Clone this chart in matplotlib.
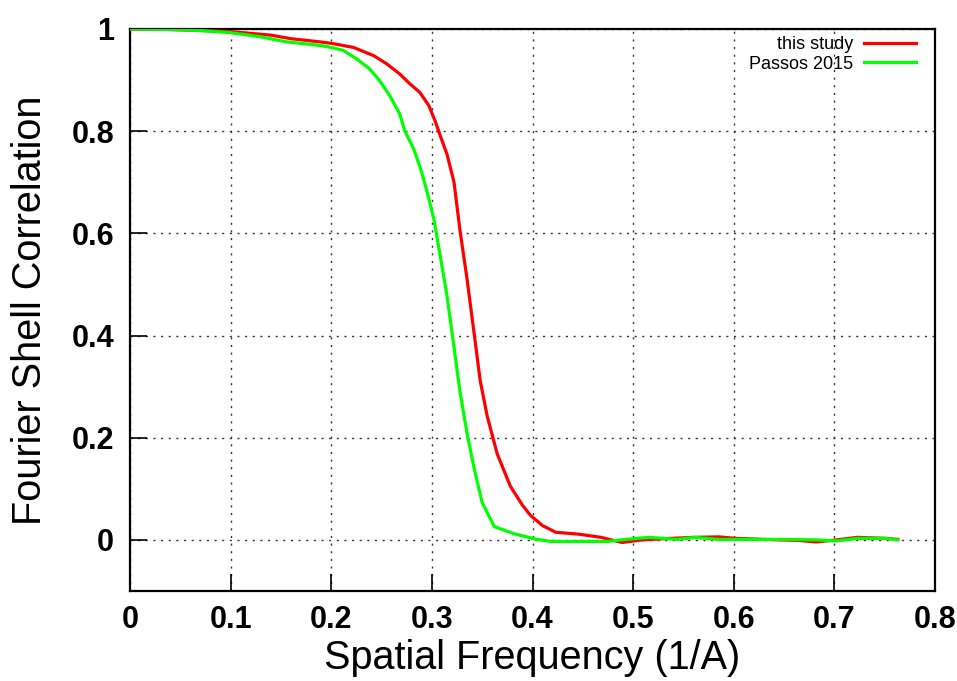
import matplotlib
matplotlib.use("Agg")
import matplotlib.pyplot as plt

# Data
red_x = [0.000, 0.040, 0.070, 0.100, 0.140, 0.160, 0.188, 0.200, 0.222, 0.242, 0.255, 0.268,
         0.278, 0.288, 0.297, 0.303, 0.310, 0.315, 0.322, 0.328, 0.335, 0.342, 0.348, 0.355,
         0.365, 0.378, 0.390, 0.398, 0.410, 0.423, 0.447, 0.468, 0.489, 0.509, 0.537, 0.561,
         0.585, 0.602, 0.630, 0.665, 0.682, 0.702, 0.723, 0.751, 0.763]
red_y = [1.000, 0.999, 0.997, 0.995, 0.988, 0.981, 0.975, 0.972, 0.964, 0.948, 0.932, 0.912,
         0.893, 0.876, 0.850, 0.821, 0.782, 0.755, 0.700, 0.605, 0.510, 0.404, 0.312, 0.242,
         0.168, 0.105, 0.068, 0.048, 0.028, 0.015, 0.011, 0.005, -0.005, 0.000, 0.003, 0.005,
         0.006, 0.003, 0.001, -0.001, -0.004, 0.000, 0.005, 0.003, 0.001]

green_x = [0.000, 0.040, 0.070, 0.099, 0.129, 0.155, 0.188, 0.200, 0.212, 0.225, 0.238, 0.248,
           0.258, 0.268, 0.273, 0.282, 0.289, 0.295, 0.302, 0.308, 0.315, 0.322, 0.328, 0.335,
           0.342, 0.350, 0.362, 0.382, 0.402, 0.418, 0.433, 0.475, 0.492, 0.516, 0.544, 0.561,
           0.585, 0.613, 0.647, 0.682, 0.702, 0.723, 0.751, 0.763]
green_y = [1.000, 0.999, 0.997, 0.993, 0.985, 0.975, 0.968, 0.964, 0.958, 0.942, 0.922, 0.899,
           0.870, 0.834, 0.801, 0.765, 0.725, 0.683, 0.628, 0.559, 0.478, 0.377, 0.289, 0.208,
           0.140, 0.073, 0.026, 0.012, 0.002, -0.003, -0.003, -0.003, 0.001, 0.005, 0.001, 0.005,
           0.001, 0.001, 0.001, 0.000, -0.002, 0.003, 0.003, 0.000]

x_ticks = [0, 0.1, 0.2, 0.3, 0.4, 0.5, 0.6, 0.7, 0.8]
x_tick_labels = ["0", "0.1", "0.2", "0.3", "0.4", "0.5", "0.6", "0.7", "0.8"]
y_ticks = [0, 0.2, 0.4, 0.6, 0.8, 1.0]
y_tick_labels = ["0", "0.2", "0.4", "0.6", "0.8", "1"]

plt.rcParams['font.family'] = ['Liberation Sans', 'DejaVu Sans']

fig = plt.figure(figsize=(9.57, 6.81), dpi=100)
ax = fig.add_axes([130/957, 1 - 591/681, (935-130)/957, (591-29)/681])

ax.plot(red_x, red_y, color=(1, 0, 0), lw=2.3, label="this study", zorder=3)
ax.plot(green_x, green_y, color=(0, 1, 0), lw=2.3, label="Passos 2015", zorder=3)

ax.set_xlim(0, 0.8)
ax.set_ylim(-0.1, 1.0)
ax.set_xticks(x_ticks)
ax.set_xticklabels(x_tick_labels, fontsize=22, fontweight='bold')
ax.set_yticks(y_ticks)
ax.set_yticklabels(y_tick_labels, fontsize=22, fontweight='bold')
ax.tick_params(direction='in', length=12, width=1.2, top=False, right=False)
ax.tick_params(axis='y', pad=11.5)
ax.tick_params(axis='x', pad=10)

ax.grid(True, linestyle=(0, (1.5, 4)), color='#333333', lw=1.0)
for s in ax.spines.values():
    s.set_linewidth(1.6)

ax.set_xlabel("Spatial Frequency (1/A)", fontsize=28.5, labelpad=3)
ax.set_ylabel("Fourier Shell Correlation", fontsize=28.5, labelpad=16)

leg = ax.legend(loc='upper right', bbox_to_anchor=(916/957, (681-36)/681),
                bbox_transform=fig.transFigure, frameon=False, markerfirst=False,
                fontsize=13, handlelength=2.9, handletextpad=0.6, labelspacing=0.15,
                borderpad=0, borderaxespad=0)

fig.savefig("out.png", dpi=100)
